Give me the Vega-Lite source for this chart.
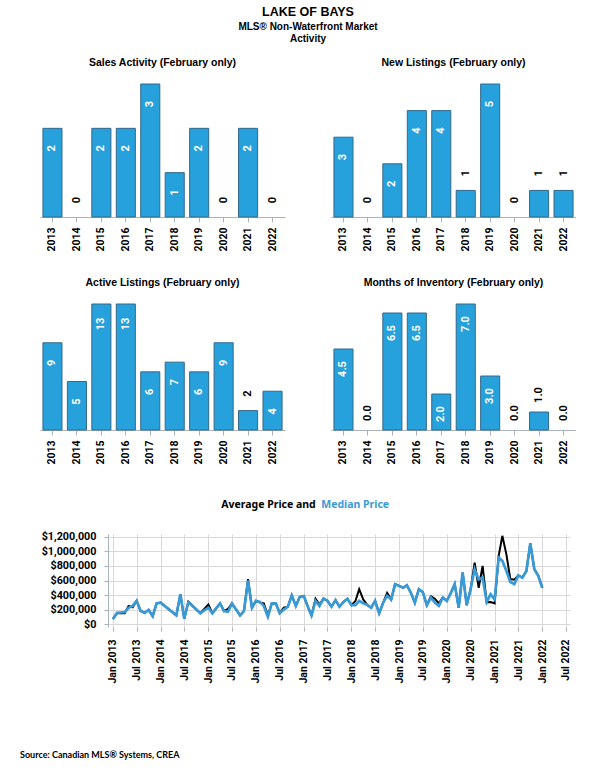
{
  "$schema": "https://vega.github.io/schema/vega-lite/v6.json",
  "background": "white",
  "padding": {"left": 20, "top": 6, "right": 0, "bottom": 0},
  "config": {
    "view": {"stroke": null},
    "font": "Liberation Sans",
    "title": {"font": "Liberation Sans", "fontWeight": "bold", "fontSize": 10.5, "color": "black"},
    "axis": {"labelFont": "Roboto", "labelFontWeight": "bold", "labelColor": "black", "labelFontSize": 10.5, "domainColor": "#aab3bb", "tickColor": "#aab3bb", "labelOverlap": false}
  },
  "datasets": {
    "sales": [
      {"year": "2013", "value": 2}, {"year": "2014", "value": 0}, {"year": "2015", "value": 2}, {"year": "2016", "value": 2}, {"year": "2017", "value": 3},
      {"year": "2018", "value": 1}, {"year": "2019", "value": 2}, {"year": "2020", "value": 0}, {"year": "2021", "value": 2}, {"year": "2022", "value": 0}
    ],
    "newlist": [
      {"year": "2013", "value": 3}, {"year": "2014", "value": 0}, {"year": "2015", "value": 2}, {"year": "2016", "value": 4}, {"year": "2017", "value": 4},
      {"year": "2018", "value": 1}, {"year": "2019", "value": 5}, {"year": "2020", "value": 0}, {"year": "2021", "value": 1}, {"year": "2022", "value": 1}
    ],
    "active": [
      {"year": "2013", "value": 9}, {"year": "2014", "value": 5}, {"year": "2015", "value": 13}, {"year": "2016", "value": 13}, {"year": "2017", "value": 6},
      {"year": "2018", "value": 7}, {"year": "2019", "value": 6}, {"year": "2020", "value": 9}, {"year": "2021", "value": 2}, {"year": "2022", "value": 4}
    ],
    "moi": [
      {"year": "2013", "value": 4.5}, {"year": "2014", "value": 0}, {"year": "2015", "value": 6.5}, {"year": "2016", "value": 6.5}, {"year": "2017", "value": 2.0},
      {"year": "2018", "value": 7.0}, {"year": "2019", "value": 3.0}, {"year": "2020", "value": 0}, {"year": "2021", "value": 1.0}, {"year": "2022", "value": 0}
    ],
    "prices": [
      {"date": "2013-01-01", "avg": 70000, "med": 70000},
      {"date": "2013-02-01", "avg": 150000, "med": 155000},
      {"date": "2013-03-01", "avg": 150000, "med": 160000},
      {"date": "2013-04-01", "avg": 150000, "med": 165000},
      {"date": "2013-05-01", "avg": 250000, "med": 225000},
      {"date": "2013-06-01", "avg": 230000, "med": 250000},
      {"date": "2013-07-01", "avg": 320000, "med": 320000},
      {"date": "2013-08-01", "avg": 180000, "med": 180000},
      {"date": "2013-09-01", "avg": 155000, "med": 155000},
      {"date": "2013-10-01", "avg": 195000, "med": 195000},
      {"date": "2013-11-01", "avg": 110000, "med": 110000},
      {"date": "2013-12-01", "avg": 285000, "med": 285000},
      {"date": "2014-01-01", "avg": 295000, "med": 295000},
      {"date": "2014-05-01", "avg": 120000, "med": 120000},
      {"date": "2014-06-01", "avg": 410000, "med": 410000},
      {"date": "2014-07-01", "avg": 75000, "med": 75000},
      {"date": "2014-08-01", "avg": 310000, "med": 300000},
      {"date": "2014-11-01", "avg": 150000, "med": 150000},
      {"date": "2015-01-01", "avg": 270000, "med": 225000},
      {"date": "2015-02-01", "avg": 150000, "med": 150000},
      {"date": "2015-04-01", "avg": 285000, "med": 285000},
      {"date": "2015-05-01", "avg": 180000, "med": 180000},
      {"date": "2015-06-01", "avg": 210000, "med": 170000},
      {"date": "2015-07-01", "avg": 285000, "med": 285000},
      {"date": "2015-09-01", "avg": 120000, "med": 120000},
      {"date": "2015-10-01", "avg": 180000, "med": 180000},
      {"date": "2015-11-01", "avg": 620000, "med": 600000},
      {"date": "2015-12-01", "avg": 225000, "med": 225000},
      {"date": "2016-01-01", "avg": 320000, "med": 320000},
      {"date": "2016-02-01", "avg": 295000, "med": 305000},
      {"date": "2016-03-01", "avg": 285000, "med": 250000},
      {"date": "2016-04-01", "avg": 120000, "med": 100000},
      {"date": "2016-05-01", "avg": 285000, "med": 285000},
      {"date": "2016-06-01", "avg": 285000, "med": 285000},
      {"date": "2016-07-01", "avg": 150000, "med": 150000},
      {"date": "2016-08-01", "avg": 225000, "med": 200000},
      {"date": "2016-09-01", "avg": 240000, "med": 240000},
      {"date": "2016-10-01", "avg": 395000, "med": 395000},
      {"date": "2016-11-01", "avg": 250000, "med": 250000},
      {"date": "2016-12-01", "avg": 375000, "med": 375000},
      {"date": "2017-01-01", "avg": 385000, "med": 385000},
      {"date": "2017-02-01", "avg": 240000, "med": 240000},
      {"date": "2017-03-01", "avg": 120000, "med": 120000},
      {"date": "2017-04-01", "avg": 350000, "med": 320000},
      {"date": "2017-05-01", "avg": 270000, "med": 250000},
      {"date": "2017-06-01", "avg": 350000, "med": 350000},
      {"date": "2017-07-01", "avg": 320000, "med": 320000},
      {"date": "2017-08-01", "avg": 240000, "med": 240000},
      {"date": "2017-09-01", "avg": 330000, "med": 330000},
      {"date": "2017-10-01", "avg": 240000, "med": 240000},
      {"date": "2017-11-01", "avg": 305000, "med": 305000},
      {"date": "2017-12-01", "avg": 350000, "med": 350000},
      {"date": "2018-01-01", "avg": 260000, "med": 260000},
      {"date": "2018-02-01", "avg": 320000, "med": 260000},
      {"date": "2018-03-01", "avg": 480000, "med": 320000},
      {"date": "2018-04-01", "avg": 340000, "med": 285000},
      {"date": "2018-05-01", "avg": 265000, "med": 265000},
      {"date": "2018-06-01", "avg": 225000, "med": 225000},
      {"date": "2018-07-01", "avg": 320000, "med": 320000},
      {"date": "2018-08-01", "avg": 150000, "med": 150000},
      {"date": "2018-09-01", "avg": 295000, "med": 295000},
      {"date": "2018-10-01", "avg": 430000, "med": 390000},
      {"date": "2018-11-01", "avg": 340000, "med": 340000},
      {"date": "2018-12-01", "avg": 550000, "med": 550000},
      {"date": "2019-01-01", "avg": 525000, "med": 525000},
      {"date": "2019-02-01", "avg": 500000, "med": 500000},
      {"date": "2019-03-01", "avg": 535000, "med": 535000},
      {"date": "2019-04-01", "avg": 430000, "med": 430000},
      {"date": "2019-05-01", "avg": 295000, "med": 295000},
      {"date": "2019-06-01", "avg": 480000, "med": 480000},
      {"date": "2019-07-01", "avg": 440000, "med": 440000},
      {"date": "2019-08-01", "avg": 260000, "med": 260000},
      {"date": "2019-09-01", "avg": 385000, "med": 365000},
      {"date": "2019-10-01", "avg": 350000, "med": 295000},
      {"date": "2019-11-01", "avg": 285000, "med": 250000},
      {"date": "2019-12-01", "avg": 365000, "med": 365000},
      {"date": "2020-01-01", "avg": 320000, "med": 320000},
      {"date": "2020-02-01", "avg": 430000, "med": 430000},
      {"date": "2020-03-01", "avg": 550000, "med": 550000},
      {"date": "2020-04-01", "avg": 225000, "med": 225000},
      {"date": "2020-05-01", "avg": 710000, "med": 710000},
      {"date": "2020-06-01", "avg": 260000, "med": 260000},
      {"date": "2020-07-01", "avg": 480000, "med": 480000},
      {"date": "2020-08-01", "avg": 845000, "med": 755000},
      {"date": "2020-09-01", "avg": 500000, "med": 615000},
      {"date": "2020-10-01", "avg": 800000, "med": 640000},
      {"date": "2020-11-01", "avg": 300000, "med": 305000},
      {"date": "2020-12-01", "avg": 305000, "med": 410000},
      {"date": "2021-01-01", "avg": 285000, "med": 340000},
      {"date": "2021-02-01", "avg": 940000, "med": 915000},
      {"date": "2021-03-01", "avg": 1215000, "med": 870000},
      {"date": "2021-04-01", "avg": 960000, "med": 730000},
      {"date": "2021-05-01", "avg": 620000, "med": 580000},
      {"date": "2021-06-01", "avg": 610000, "med": 550000},
      {"date": "2021-07-01", "avg": 670000, "med": 670000},
      {"date": "2021-08-01", "avg": 640000, "med": 640000},
      {"date": "2021-09-01", "avg": 730000, "med": 730000},
      {"date": "2021-10-01", "avg": 1110000, "med": 1110000},
      {"date": "2021-11-01", "avg": 755000, "med": 755000},
      {"date": "2021-12-01", "avg": 665000, "med": 665000},
      {"date": "2022-01-01", "avg": 500000, "med": 500000}
    ]
  },
  "title": {"text": "Source: Canadian MLS® Systems, CREA", "orient": "bottom", "anchor": "start", "frame": "bounds", "dx": -20, "offset": 68, "font": "Lato", "fontSize": 9, "fontWeight": "bold"},
  "vconcat": [
    {
      "title": {"text": "LAKE OF BAYS", "subtitle": ["MLS® Non-Waterfront Market", "Activity"], "anchor": "middle", "frame": "bounds", "fontSize": 12.5, "subtitleFont": "Liberation Sans", "subtitleFontWeight": "bold", "subtitleFontSize": 10, "subtitleLineHeight": 12.5, "subtitleColor": "black", "subtitlePadding": 3, "offset": 14},
      "spacing": 34,
      "vconcat": [
        {
          "spacing": 26,
          "vconcat": [
            {
              "spacing": 46,
              "hconcat": [
                {
                  "width": 245, "height": 133,
                  "data": {"name": "sales"},
                  "title": {"text": "Sales Activity (February only)", "offset": 15},
                  "encoding": {
                    "x": {"field": "year", "type": "ordinal", "title": null, "scale": {"paddingInner": 0.22, "paddingOuter": 0.12}, "axis": {"labelAngle": 270, "tickSize": 5, "labelPadding": 5}},
                    "y": {"field": "value", "type": "quantitative", "scale": {"domain": [0, 3], "nice": false}, "axis": null}
                  },
                  "layer": [
                    {"transform": [{"filter": "datum.value > 0"}], "mark": {"type": "bar", "fill": "#27a1db", "stroke": "#34688a", "strokeWidth": 1}},
                    {"transform": [{"filter": "datum.value >= 1"}], "mark": {"type": "text", "angle": 270, "align": "center", "baseline": "middle", "dx": -20, "fill": "white", "font": "Roboto", "fontWeight": "bold", "fontSize": 11}, "encoding": {"text": {"field": "value", "type": "quantitative"}}},
                    {"transform": [{"filter": "datum.value < 1"}], "mark": {"type": "text", "angle": 270, "align": "center", "baseline": "middle", "dx": 17, "fill": "black", "font": "Roboto", "fontWeight": "bold", "fontSize": 11}, "encoding": {"text": {"field": "value", "type": "quantitative"}}}
                  ]
                },
                {
                  "width": 245, "height": 133,
                  "data": {"name": "newlist"},
                  "title": {"text": "New Listings (February only)", "offset": 15},
                  "encoding": {
                    "x": {"field": "year", "type": "ordinal", "title": null, "scale": {"paddingInner": 0.22, "paddingOuter": 0.12}, "axis": {"labelAngle": 270, "tickSize": 5, "labelPadding": 5}},
                    "y": {"field": "value", "type": "quantitative", "scale": {"domain": [0, 5], "nice": false}, "axis": null}
                  },
                  "layer": [
                    {"transform": [{"filter": "datum.value > 0"}], "mark": {"type": "bar", "fill": "#27a1db", "stroke": "#34688a", "strokeWidth": 1}},
                    {"transform": [{"filter": "datum.value >= 2"}], "mark": {"type": "text", "angle": 270, "align": "center", "baseline": "middle", "dx": -20, "fill": "white", "font": "Roboto", "fontWeight": "bold", "fontSize": 11}, "encoding": {"text": {"field": "value", "type": "quantitative"}}},
                    {"transform": [{"filter": "datum.value < 2"}], "mark": {"type": "text", "angle": 270, "align": "center", "baseline": "middle", "dx": 17, "fill": "black", "font": "Roboto", "fontWeight": "bold", "fontSize": 11}, "encoding": {"text": {"field": "value", "type": "quantitative"}}}
                  ]
                }
              ]
            },
            {
              "spacing": 46,
              "hconcat": [
                {
                  "width": 245, "height": 126,
                  "data": {"name": "active"},
                  "title": {"text": "Active Listings (February only)", "offset": 15},
                  "encoding": {
                    "x": {"field": "year", "type": "ordinal", "title": null, "scale": {"paddingInner": 0.22, "paddingOuter": 0.12}, "axis": {"labelAngle": 270, "tickSize": 5, "labelPadding": 5}},
                    "y": {"field": "value", "type": "quantitative", "scale": {"domain": [0, 13], "nice": false}, "axis": null}
                  },
                  "layer": [
                    {"transform": [{"filter": "datum.value > 0"}], "mark": {"type": "bar", "fill": "#27a1db", "stroke": "#34688a", "strokeWidth": 1}},
                    {"transform": [{"filter": "datum.value >= 3"}], "mark": {"type": "text", "angle": 270, "align": "center", "baseline": "middle", "dx": -20, "fill": "white", "font": "Roboto", "fontWeight": "bold", "fontSize": 11}, "encoding": {"text": {"field": "value", "type": "quantitative"}}},
                    {"transform": [{"filter": "datum.value < 3"}], "mark": {"type": "text", "angle": 270, "align": "center", "baseline": "middle", "dx": 17, "fill": "black", "font": "Roboto", "fontWeight": "bold", "fontSize": 11}, "encoding": {"text": {"field": "value", "type": "quantitative"}}}
                  ]
                },
                {
                  "width": 245, "height": 126,
                  "data": {"name": "moi"},
                  "title": {"text": "Months of Inventory (February only)", "offset": 15},
                  "encoding": {
                    "x": {"field": "year", "type": "ordinal", "title": null, "scale": {"paddingInner": 0.22, "paddingOuter": 0.12}, "axis": {"labelAngle": 270, "tickSize": 5, "labelPadding": 5}},
                    "y": {"field": "value", "type": "quantitative", "scale": {"domain": [0, 7], "nice": false}, "axis": null}
                  },
                  "layer": [
                    {"transform": [{"filter": "datum.value > 0"}], "mark": {"type": "bar", "fill": "#27a1db", "stroke": "#34688a", "strokeWidth": 1}},
                    {"transform": [{"filter": "datum.value >= 2"}], "mark": {"type": "text", "angle": 270, "align": "center", "baseline": "middle", "dx": -20, "fill": "white", "font": "Roboto", "fontWeight": "bold", "fontSize": 11}, "encoding": {"text": {"field": "value", "type": "quantitative", "format": ".1f"}}},
                    {"transform": [{"filter": "datum.value < 2"}], "mark": {"type": "text", "angle": 270, "align": "center", "baseline": "middle", "dx": 17, "fill": "black", "font": "Roboto", "fontWeight": "bold", "fontSize": 11}, "encoding": {"text": {"field": "value", "type": "quantitative", "format": ".1f"}}}
                  ]
                }
              ]
            }
          ]
        },
        {
          "title": {"text": "Average Price and", "font": "Noto Sans", "fontSize": 10.5, "anchor": "middle", "align": "right", "frame": "bounds", "dx": 10, "dy": 10, "offset": 0},
          "spacing": 0,
          "hconcat": [
            {
              "width": 1, "height": 93,
              "data": {"values": []},
              "mark": {"type": "point", "opacity": 0},
              "encoding": {}
            },
            {
              "width": 462, "height": 93,
              "data": {"name": "prices"},
              "transform": [{"fold": ["avg", "med"], "as": ["series", "price"]}],
              "title": {"text": "Median Price", "color": "#3a9ad6", "font": "Noto Sans", "fontSize": 10.5, "anchor": "middle", "align": "left", "frame": "bounds", "dx": 15, "offset": 20},
              "mark": {"type": "line"},
              "encoding": {
                "x": {
                  "field": "date", "type": "temporal", "title": null,
                  "scale": {"type": "utc", "domain": [{"year": 2012, "month": 11, "date": 24, "utc": true}, {"year": 2022, "month": 8, "date": 1, "utc": true}]},
                  "axis": {"format": "%b %Y", "tickCount": {"interval": "month", "step": 6}, "labelAngle": 270, "labelOverlap": false, "grid": true, "gridColor": "#d9d9d9", "tickSize": 4, "labelPadding": 8, "domain": false}
                },
                "y": {
                  "field": "price", "type": "quantitative", "title": null,
                  "scale": {"domain": [-40000, 1240000], "nice": false, "zero": false},
                  "axis": {"values": [0, 200000, 400000, 600000, 800000, 1000000, 1200000], "format": "$,.0f", "labelOverlap": false, "labelFlush": false, "grid": true, "gridColor": "#d9d9d9", "tickSize": 4, "labelPadding": 8, "labelFontSize": 10.8}
                },
                "color": {"field": "series", "type": "nominal", "scale": {"domain": ["avg", "med"], "range": ["#000000", "#3a9ad6"]}, "legend": null},
                "strokeWidth": {"field": "series", "type": "nominal", "scale": {"domain": ["avg", "med"], "range": [2, 2.7]}, "legend": null}
              }
            }
          ]
        }
      ]
    }
  ]
}
